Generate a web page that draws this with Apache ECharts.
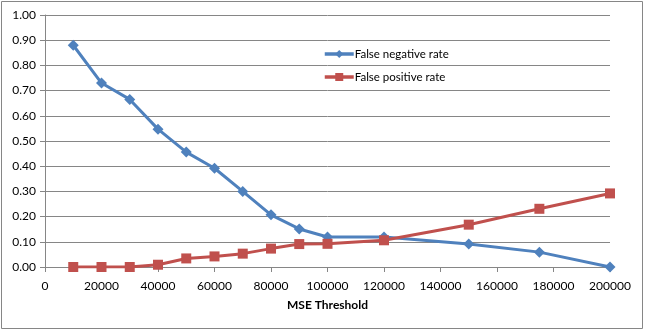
<!DOCTYPE html>
<html><head><meta charset="utf-8">
<script src="https://cdn.jsdelivr.net/npm/echarts@6/dist/echarts.min.js"></script>
<style>html,body{margin:0;padding:0;background:#fff}#c{width:645px;height:331px}</style>
</head><body><div id="c"></div>
<script>
var thresholds = [10000,20000,30000,40000,50000,60000,70000,80000,90000,100000,120000,150000,175000,200000];
var falseNegative = [0.88,0.73,0.665,0.547,0.456,0.392,0.30,0.207,0.151,0.119,0.119,0.091,0.059,0.0];
var falsePositive = [0.0,0.0,0.0,0.009,0.034,0.042,0.053,0.073,0.091,0.092,0.106,0.168,0.231,0.292];
var seriesNames = ['False negative rate','False positive rate'];
var xTitle = 'MSE Threshold';

function pairs(xs, ys){ return xs.map(function(x,i){return [x, ys[i]];}); }
var font = 'Lato, "Open Sans", sans-serif';
var chart = echarts.init(document.getElementById('c'), null, {renderer:'canvas'});
chart.setOption({
  animation:false,
  backgroundColor:'#fff',
  graphic:[{type:'rect',shape:{x:1.5,y:1.5,width:641,height:327},style:{fill:'none',stroke:'#868686',lineWidth:1},silent:true}],
  grid:{left:45,right:35,top:15,bottom:64},
  legend:{
    orient:'vertical', left:318, top:43, itemGap:11, itemWidth:29, itemHeight:10,
    textStyle:{fontFamily:font,fontSize:11.5,color:'#000',padding:[0,0,0,-4]},
    lineStyle:{width:3.5},
    data:[seriesNames[0],seriesNames[1]]
  },
  xAxis:{
    type:'value', min:0, max:200000, interval:20000,
    name:xTitle, nameLocation:'middle', nameGap:32,
    nameTextStyle:{fontFamily:font,fontSize:12,fontWeight:'bold',color:'#000'},
    axisLine:{show:true,lineStyle:{color:'#868686'}},
    axisTick:{show:true,length:5,lineStyle:{color:'#868686'}},
    axisLabel:{fontFamily:font,fontSize:12,color:'#000',margin:13,formatter:function(v){return String(v);}},
    splitLine:{show:false}
  },
  yAxis:{
    type:'value', min:0, max:1, interval:0.1,
    axisLine:{show:true,lineStyle:{color:'#868686'}},
    axisTick:{show:true,length:5,lineStyle:{color:'#868686'}},
    axisLabel:{fontFamily:font,fontSize:12,color:'#000',margin:9,formatter:function(v){return v.toFixed(2);}},
    splitLine:{show:true,lineStyle:{color:'#868686',width:1}}
  },
  series:[
    {name:seriesNames[0],type:'line',data:pairs(thresholds,falseNegative),symbol:'diamond',symbolSize:11,
     lineStyle:{color:'#4F81BD',width:3},itemStyle:{color:'#4F81BD'}},
    {name:seriesNames[1],type:'line',data:pairs(thresholds,falsePositive),symbol:'rect',symbolSize:10,
     lineStyle:{color:'#C0504D',width:3},itemStyle:{color:'#C0504D'}}
  ]
});
</script></body></html>
